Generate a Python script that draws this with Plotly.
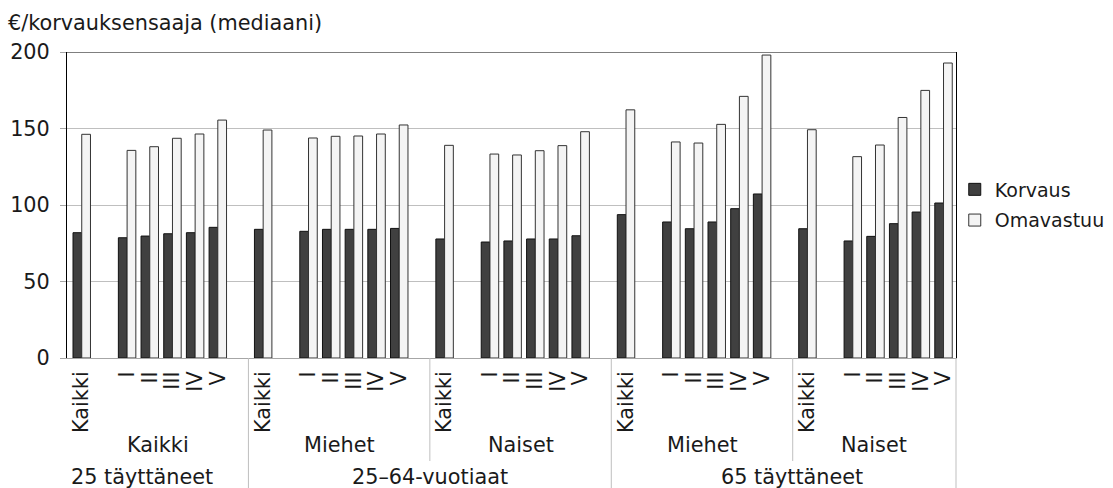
import plotly.graph_objects as go

# Category structure: age group -> sex -> income class
age_groups = ["25 täyttäneet", "25–64-vuotiaat", "65 täyttäneet"]
sex_groups = ["Kaikki", "Miehet", "Naiset", "Miehet", "Naiset"]
sex_age_index = [0, 1, 1, 2, 2]
classes = ["Kaikki", "I", "II", "III", "IV", "V"]

# Median euros per recipient, in the order of sex_groups x classes
korvaus = [
    81.9, 78.6, 79.7, 81.2, 81.9, 85.4,
    84.1, 82.8, 84.1, 84.1, 84.1, 84.7,
    77.8, 75.8, 76.5, 77.8, 77.8, 79.9,
    93.7, 88.9, 84.5, 88.9, 97.6, 107.2,
    84.5, 76.5, 79.5, 87.8, 95.4, 101.3,
]
omavastuu = [
    146.2, 135.7, 138.1, 143.6, 146.4, 155.5,
    149.0, 143.8, 144.9, 145.1, 146.4, 152.3,
    139.0, 133.3, 132.7, 135.5, 138.8, 147.9,
    162.2, 141.2, 140.5, 152.7, 171.0, 198.0,
    149.2, 131.6, 139.2, 157.2, 174.9, 192.8,
]

y_ticks = [0, 50, 100, 150, 200]

# Slot layout: each sex group takes 8 slots (Kaikki, empty, I..V, empty)
STRIDE = 8
slot_in_group = [0, 2, 3, 4, 5, 6]
xpos = [STRIDE * g + s for g in range(len(sex_groups)) for s in slot_in_group]
tick_text = classes * len(sex_groups)

X_MIN, X_MAX = -0.65, 38.55
FONT = "DejaVu Sans"
FS = 20.8
TXT = "#1a1a1a"
GRID = "#bfbfbf"

fig = go.Figure()
fig.add_trace(go.Bar(
    x=xpos, y=korvaus, name="Korvaus", legendgroup="k",
    marker=dict(color="#404040", line=dict(color="#111111", width=1)),
))
fig.add_trace(go.Bar(
    x=xpos, y=omavastuu, name="Omavastuu", legendgroup="o",
    marker=dict(color="#f4f4f4", line=dict(color="#333333", width=1)),
))


def to_paper(p):
    return (p - X_MIN) / (X_MAX - X_MIN)


PLOT_H = 306.0
shapes = []
# frame top line
shapes.append(dict(type="line", xref="paper", yref="y", x0=0, x1=1, y0=200, y1=200,
                   line=dict(color="black", width=1)))
# dividers in the category label area
group_starts = [STRIDE * g + X_MIN for g in range(1, len(sex_groups))]
for g, xs in enumerate(group_starts, start=1):
    same_age = sex_age_index[g] == sex_age_index[g - 1]
    depth = 103 if same_age else 135
    shapes.append(dict(type="line", xref="paper", yref="paper",
                       x0=to_paper(xs), x1=to_paper(xs), y0=0, y1=-depth / PLOT_H,
                       line=dict(color=GRID, width=1)))
shapes.append(dict(type="line", xref="paper", yref="paper", x0=1, x1=1,
                   y0=0, y1=-135 / PLOT_H, line=dict(color=GRID, width=1)))

annotations = []
# second level: sex groups, centred between dividers
for g, name in enumerate(sex_groups):
    left = STRIDE * g + X_MIN
    right = min(STRIDE * (g + 1) + X_MIN, X_MAX)
    annotations.append(dict(x=(left + right) / 2, y=-87 / PLOT_H, xref="x", yref="paper",
                            text=name, showarrow=False, yanchor="middle",
                            font=dict(family=FONT, size=FS, color=TXT)))
# third level: age groups
for a, name in enumerate(age_groups):
    members = [g for g, ai in enumerate(sex_age_index) if ai == a]
    left = STRIDE * members[0] + X_MIN
    right = min(STRIDE * (members[-1] + 1) + X_MIN, X_MAX)
    cx = (left + right) / 2
    if a == 0:
        cx -= 0.7
    if a == 2:
        cx += 0.35
    annotations.append(dict(x=cx, y=-119 / PLOT_H, xref="x", yref="paper",
                            text=name, showarrow=False, yanchor="middle",
                            font=dict(family=FONT, size=FS, color=TXT)))

fig.update_layout(
    width=1113, height=488,
    margin=dict(l=67, r=157, t=52, b=130, autoexpand=False),
    paper_bgcolor="white", plot_bgcolor="white",
    barmode="group", bargap=0.23, bargroupgap=0,
    font=dict(family=FONT, size=FS, color=TXT),
    title=dict(text="€/korvauksensaaja (mediaani)", x=8 / 1113, xref="container",
               xanchor="left", y=1 - 23 / 488, yref="container", yanchor="middle",
               font=dict(family=FONT, size=FS, color=TXT)),
    legend=dict(x=0.9986, xanchor="left", y=0.5, yanchor="middle",
                font=dict(family=FONT, size=19, color=TXT),
                traceorder="grouped", tracegroupgap=3, bgcolor="rgba(0,0,0,0)"),
    xaxis=dict(range=[X_MIN, X_MAX], tickmode="array", tickvals=xpos, ticktext=tick_text,
               tickangle=-90, ticks="", showgrid=False, zeroline=False,
               showline=True, linecolor="#a6a6a6", linewidth=1,
               tickfont=dict(family=FONT, size=FS, color=TXT), ticklabelstandoff=4),
    yaxis=dict(range=[0, 200], tickmode="array", tickvals=y_ticks,
               showgrid=True, gridcolor=GRID, gridwidth=1, zeroline=False,
               showline=True, linecolor="black", linewidth=1, mirror=True,
               ticks="outside", ticklen=6, tickcolor="#a6a6a6",
               tickfont=dict(family=FONT, size=FS, color=TXT), ticklabelstandoff=6),
    shapes=shapes, annotations=annotations, showlegend=True,
)

fig.write_html("out.html")
